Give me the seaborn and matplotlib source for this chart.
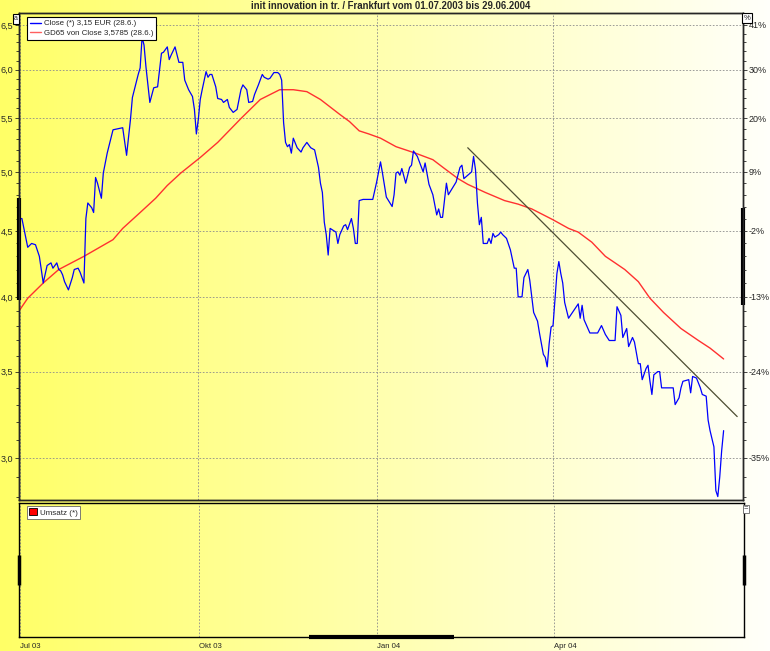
import numpy as np
import pandas as pd
import matplotlib
matplotlib.use("Agg")
import matplotlib.pyplot as plt
import matplotlib.ticker as mticker
from matplotlib.colors import LinearSegmentedColormap
from matplotlib.lines import Line2D
from matplotlib.patches import Patch
import seaborn as sns

sns.set_style("white")
plt.rcParams["font.family"] = ["Liberation Sans", "DejaVu Sans"]

# --- data ---
start = pd.Timestamp("2003-07-01")

# calendar days since 01.07.2003 / close price in EUR
close_days = [0, 1, 4, 6, 8, 10, 12, 14, 16, 17, 19, 20, 21, 22, 23, 25, 27, 28, 30, 31,
              33, 34, 35, 37, 38, 39, 40, 42, 43, 45, 48, 53, 55, 57, 58, 61, 62, 63, 64, 65,
              67, 69, 71, 73, 74, 76, 77, 78, 80, 82, 84, 85, 87, 89, 90, 91, 92, 93, 94, 96,
              97, 98, 99, 101, 102, 104, 105, 107, 108, 110, 112, 114, 115, 117, 118, 120, 121, 123, 125, 126,
              128, 129, 131, 133, 134, 135, 136, 137, 138, 139, 140, 141, 143, 145, 146, 148, 150, 152, 154, 155,
              156, 157, 158, 159, 160, 161, 163, 164, 165, 167, 168, 169, 171, 172, 173, 174, 175, 177, 182, 184,
              186, 187, 189, 192, 193, 194, 195, 196, 197, 199, 201, 202, 203, 205, 208, 209, 211, 213, 215, 216,
              217, 218, 220, 221, 225, 227, 228, 229, 231, 233, 234, 235, 236, 237, 238, 239, 240, 241, 242, 243,
              244, 245, 247, 248, 249, 251, 253, 255, 256, 257, 259, 260, 262, 263, 265, 267, 268, 270, 271, 272,
              273, 274, 275, 276, 277, 278, 279, 280, 281, 283, 285, 288, 289, 290, 291, 293, 294, 298, 300, 302,
              304, 307, 308, 310, 311, 313, 314, 316, 317, 319, 320, 321, 323, 324, 325, 326, 327, 329, 330, 331,
              337, 338, 340, 341, 342, 345, 346, 347, 349, 351, 352, 354, 355, 356, 358, 359, 360, 361, 362, 363]
close_vals = [4.60, 4.60, 4.37, 4.40, 4.39, 4.30, 4.10, 4.23, 4.25, 4.21, 4.25, 4.20, 4.19, 4.16, 4.11, 4.05, 4.14, 4.20, 4.21, 4.18,
              4.10, 4.60, 4.73, 4.69, 4.65, 4.95, 4.90, 4.77, 4.99, 5.17, 5.39, 5.41, 5.15, 5.49, 5.71, 5.95, 6.02, 6.36, 6.27, 6.03,
              5.66, 5.81, 5.82, 6.18, 6.19, 6.25, 6.11, 6.16, 6.25, 6.08, 6.08, 5.89, 5.79, 5.72, 5.59, 5.35, 5.49, 5.69, 5.79, 5.98,
              5.92, 5.95, 5.95, 5.82, 5.70, 5.69, 5.66, 5.69, 5.61, 5.56, 5.59, 5.79, 5.84, 5.79, 5.66, 5.67, 5.74, 5.84, 5.95, 5.92,
              5.90, 5.91, 5.97, 5.97, 5.95, 5.89, 5.46, 5.27, 5.23, 5.25, 5.17, 5.31, 5.22, 5.18, 5.22, 5.27, 5.22, 5.20, 5.04, 4.90,
              4.82, 4.57, 4.47, 4.31, 4.52, 4.51, 4.49, 4.40, 4.47, 4.54, 4.55, 4.51, 4.60, 4.52, 4.40, 4.40, 4.75, 4.76, 4.76, 4.91,
              5.09, 4.99, 4.78, 4.70, 4.80, 4.99, 5.00, 4.97, 5.03, 4.90, 5.04, 5.06, 5.19, 5.14, 5.00, 5.08, 4.89, 4.80, 4.63, 4.68,
              4.61, 4.61, 4.90, 4.80, 4.91, 5.04, 5.06, 4.94, 4.97, 5.00, 5.14, 5.02, 4.73, 4.55, 4.61, 4.40, 4.40, 4.40, 4.44, 4.40,
              4.48, 4.45, 4.47, 4.49, 4.47, 4.44, 4.35, 4.21, 4.21, 4.00, 4.00, 4.14, 4.20, 4.12, 3.89, 3.83, 3.75, 3.61, 3.59, 3.53,
              3.68, 3.79, 3.80, 3.98, 4.17, 4.26, 4.17, 4.10, 3.96, 3.85, 3.89, 3.95, 3.85, 3.94, 3.84, 3.78, 3.75, 3.75, 3.80, 3.74,
              3.70, 3.70, 3.93, 3.87, 3.72, 3.78, 3.66, 3.72, 3.69, 3.55, 3.55, 3.45, 3.52, 3.54, 3.44, 3.36, 3.48, 3.50, 3.50, 3.40,
              3.40, 3.30, 3.34, 3.40, 3.44, 3.45, 3.37, 3.47, 3.46, 3.40, 3.36, 3.35, 3.21, 3.15, 3.06, 2.83, 2.80, 2.90, 3.04, 3.15]

# 65-day moving average as drawn (GD65)
gd_days = [0, 4, 12, 20, 33, 48, 53, 62, 70, 76, 83, 93, 102, 114, 124, 134, 141, 148, 155, 165,
           170, 175, 180, 186, 194, 204, 213, 219, 226, 231, 240, 250, 257, 264, 275, 283, 288, 295, 302, 307,
           312, 319, 325, 332, 341, 350, 356, 360, 363]
gd_vals = [3.91, 3.99, 4.10, 4.20, 4.30, 4.43, 4.52, 4.65, 4.77, 4.88, 4.99, 5.13, 5.27, 5.50, 5.69, 5.79, 5.79, 5.77, 5.69, 5.54,
           5.47, 5.38, 5.35, 5.31, 5.23, 5.17, 5.11, 5.03, 4.94, 4.89, 4.82, 4.75, 4.72, 4.68, 4.59, 4.52, 4.49, 4.41, 4.30, 4.25,
           4.20, 4.11, 3.99, 3.89, 3.78, 3.70, 3.65, 3.61, 3.58]

# hand-drawn resistance line
trend_days = [231, 370]
trend_vals = [5.22, 3.23]

price_ticks = [3.0, 3.5, 4.0, 4.5, 5.0, 5.5, 6.0, 6.5]
price_labels = ["3,0", "3,5", "4,0", "4,5", "5,0", "5,5", "6,0", "6,5"]
pct_labels = ["-35%", "-24%", "-13%", "-2%", "9%", "20%", "30%", "41%"]
month_ticks = ["2003-07-01", "2003-10-01", "2004-01-01", "2004-04-01"]
month_labels = ["Jul 03", "Okt 03", "Jan 04", "Apr 04"]

title = "init innovation in tr. / Frankfurt vom 01.07.2003 bis 29.06.2004"
close_label = "Close (*) 3,15 EUR (28.6.)"
gd_label = "GD65 von Close 3,5785 (28.6.)"
vol_label = "Umsatz (*)"


def to_df(days, vals):
    return pd.DataFrame({"date": start + pd.to_timedelta(days, unit="D"), "value": vals})


close = to_df(close_days, close_vals)
gd = to_df(gd_days, gd_vals)
trend = to_df(trend_days, trend_vals)

W, H = 770, 651
fig = plt.figure(figsize=(W / 100, H / 100), dpi=100)

# yellow-to-white background
bg = fig.add_axes([0, 0, 1, 1], zorder=-10)
cmap = LinearSegmentedColormap.from_list("bg", ["#ffff66", "#fffffa"])
bg.imshow(np.linspace(0, 1, 256)[None, :], aspect="auto", cmap=cmap, extent=[0, 1, 0, 1])
bg.axis("off")

ax = fig.add_axes([19 / W, 1 - 500 / H, (743 - 19) / W, (500 - 13) / H])
ax2 = fig.add_axes([19 / W, 1 - 637 / H, (744 - 19) / W, (637 - 503) / H])
for a in (ax, ax2):
    a.patch.set_alpha(0)
    for s in a.spines.values():
        s.set_color("black")
        s.set_linewidth(1)

grid_kw = dict(color="#8c8c8c", linestyle=(0, (2, 2)), linewidth=0.6)

# --- price panel ---
sns.lineplot(data=gd, x="date", y="value", color="#ff3030", lw=1, ax=ax, legend=False)
sns.lineplot(data=close, x="date", y="value", color="#0000ff", lw=0.9, ax=ax, legend=False)
sns.lineplot(data=trend, x="date", y="value", color="#4d4d33", lw=0.9, ax=ax, legend=False)

xmin = start - pd.Timedelta(hours=12)
xmax = start + pd.Timedelta(days=373)
ax.set_xlim(xmin, xmax)
ax.set_yscale("log")
ax.set_ylim(2.783, 6.64)
ax.set_yticks(price_ticks)
ax.set_yticklabels(price_labels)
ax.yaxis.set_minor_locator(mticker.FixedLocator(np.arange(2.8, 6.65, 0.1)))
ax.yaxis.set_minor_formatter(mticker.NullFormatter())
ax.set_xticks(pd.to_datetime(month_ticks))
ax.tick_params(axis="x", length=0, labelbottom=False)
ax.tick_params(axis="y", which="major", labelsize=6.5, length=3, width=0.6, pad=1)
ax.tick_params(axis="y", which="minor", length=2, width=0.6)
ax.grid(True, which="major", **grid_kw)
ax.set_xlabel("")
ax.set_ylabel("")

axr = ax.twinx()
axr.set_yscale("log")
axr.set_ylim(ax.get_ylim())
axr.set_yticks(price_ticks)
axr.set_yticklabels(pct_labels)
axr.yaxis.set_minor_locator(mticker.FixedLocator(np.arange(2.8, 6.65, 0.1)))
axr.yaxis.set_minor_formatter(mticker.NullFormatter())
axr.tick_params(axis="y", which="major", labelsize=6.5, length=3, width=0.6, pad=1)
axr.tick_params(axis="y", which="minor", length=2, width=0.6)
for s in axr.spines.values():
    s.set_linewidth(1)

handles = [Line2D([], [], color="#0000ff", lw=1), Line2D([], [], color="#ff6060", lw=1)]
leg = ax.legend(handles, [close_label, gd_label], loc="upper left",
                bbox_to_anchor=(8 / 724, 1 - 4 / 487), borderaxespad=0, frameon=True,
                fancybox=False, edgecolor="black", framealpha=1, fontsize=5.7,
                handlelength=1.4, handletextpad=0.4, borderpad=0.35, labelspacing=0.25)
leg.get_frame().set_linewidth(0.8)

# scroll markers on the axes
ax.plot([0, 0], [0.41, 0.62], transform=ax.transAxes, color="black", lw=3,
        clip_on=False, solid_capstyle="butt")
ax.plot([1, 1], [0.40, 0.60], transform=ax.transAxes, color="black", lw=3,
        clip_on=False, solid_capstyle="butt")

# --- volume panel (empty) ---
ax2.set_xlim(xmin, xmax)
ax2.set_ylim(0, 1)
ax2.set_yticks([])
ax2.set_xticks(pd.to_datetime(month_ticks))
ax2.set_xticklabels(month_labels, ha="left")
ax2.tick_params(axis="x", labelsize=5.6, length=3, width=0.6, pad=1)
ax2.grid(True, axis="x", **grid_kw)
vleg = ax2.legend([Patch(facecolor="#ff0000", edgecolor="black", lw=0.6)], [vol_label],
                  loc="upper left", bbox_to_anchor=(8 / 725, 1 - 3 / 134), borderaxespad=0,
                  frameon=True, fancybox=False, edgecolor="#666666", framealpha=1,
                  fontsize=5.8, handlelength=0.9, handleheight=0.9, handletextpad=0.4,
                  borderpad=0.3)
vleg.get_frame().set_linewidth(0.6)
ax2.plot([0.40, 0.60], [0, 0], transform=ax2.transAxes, color="black", lw=3,
         clip_on=False, solid_capstyle="butt")
for xs in (0, 1):
    ax2.plot([xs, xs], [0.39, 0.61], transform=ax2.transAxes, color="black", lw=2.5,
             clip_on=False, solid_capstyle="butt")

# title and small window buttons
fig.text(391 / W, 1 - 6 / H, title, ha="center", va="center", fontsize=6.9, fontweight="bold")
box = dict(boxstyle="square,pad=0.15", fc="white", ec="black", lw=0.8)
fig.text(16 / W, 1 - 19 / H, "a", ha="center", va="center", fontsize=5, bbox=box)
fig.text(747 / W, 1 - 18 / H, "%", ha="center", va="center", fontsize=5.5, bbox=box)
fig.text(746 / W, 1 - 509 / H, "=", ha="center", va="center", fontsize=5.5,
         bbox=dict(boxstyle="square,pad=0.1", fc="white", ec="#666666", lw=0.6))

fig.savefig("out.png", dpi=100)
